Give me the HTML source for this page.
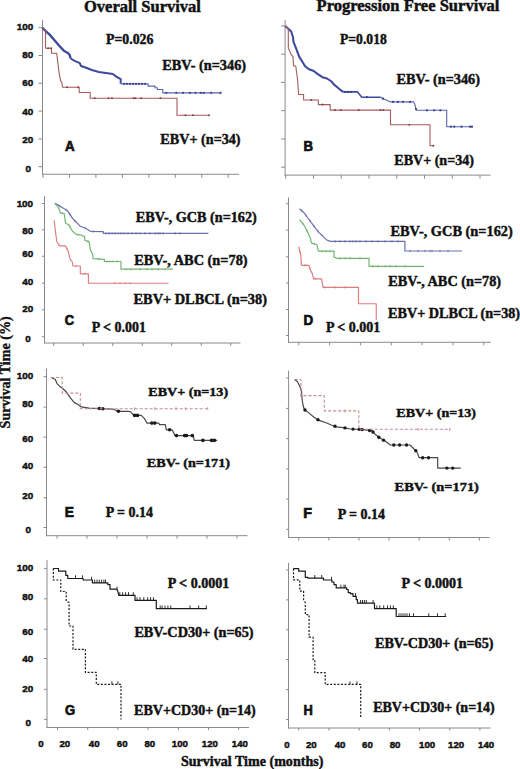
<!DOCTYPE html>
<html><head><meta charset="utf-8"><title>Survival curves by EBV status</title>
<style>html,body{margin:0;padding:0;background:#fff;width:520px;height:769px;overflow:hidden}svg{display:block}</style>
</head><body>
<svg width="520" height="769" viewBox="0 0 520 769">
<rect width="520" height="769" fill="#fff"/>
<line x1="42.50" y1="20.00" x2="42.50" y2="174.75" stroke="#8a8a8a" stroke-width="1" />
<line x1="42.00" y1="174.25" x2="239.00" y2="174.25" stroke="#8a8a8a" stroke-width="1" />
<line x1="38.50" y1="27.70" x2="42.50" y2="27.70" stroke="#8a8a8a" stroke-width="1" />
<line x1="38.50" y1="55.50" x2="42.50" y2="55.50" stroke="#8a8a8a" stroke-width="1" />
<line x1="38.50" y1="83.30" x2="42.50" y2="83.30" stroke="#8a8a8a" stroke-width="1" />
<line x1="38.50" y1="111.10" x2="42.50" y2="111.10" stroke="#8a8a8a" stroke-width="1" />
<line x1="38.50" y1="138.90" x2="42.50" y2="138.90" stroke="#8a8a8a" stroke-width="1" />
<line x1="38.50" y1="166.70" x2="42.50" y2="166.70" stroke="#8a8a8a" stroke-width="1" />
<line x1="43.00" y1="174.25" x2="43.00" y2="177.75" stroke="#8a8a8a" stroke-width="1" />
<line x1="69.46" y1="174.25" x2="69.46" y2="177.75" stroke="#8a8a8a" stroke-width="1" />
<line x1="95.92" y1="174.25" x2="95.92" y2="177.75" stroke="#8a8a8a" stroke-width="1" />
<line x1="122.38" y1="174.25" x2="122.38" y2="177.75" stroke="#8a8a8a" stroke-width="1" />
<line x1="148.84" y1="174.25" x2="148.84" y2="177.75" stroke="#8a8a8a" stroke-width="1" />
<line x1="175.30" y1="174.25" x2="175.30" y2="177.75" stroke="#8a8a8a" stroke-width="1" />
<line x1="201.76" y1="174.25" x2="201.76" y2="177.75" stroke="#8a8a8a" stroke-width="1" />
<line x1="228.22" y1="174.25" x2="228.22" y2="177.75" stroke="#8a8a8a" stroke-width="1" />
<polyline points="42.40,27.80 45.80,31.20 49.60,34.60 54.30,40.00 59.00,45.50 64.20,51.00 67.90,53.00 69.60,54.80 70.60,58.50" fill="none" stroke="#3d4a9e" stroke-width="2.4" stroke-linejoin="round" />
<polyline points="70.60,58.50 74.60,60.80 79.80,63.10 81.00,66.00 86.20,67.70 91.90,70.00 98.80,72.00 104.20,72.80 112.90,74.00 116.30,76.60 120.70,79.20 120.70,83.80" fill="none" stroke="#3d4a9e" stroke-width="2.0" stroke-linejoin="round" />
<polyline points="120.70,83.80 148.10,83.80 148.10,86.10 155.00,86.10 155.00,87.70 157.30,87.70 157.30,89.50 162.80,89.50 162.80,92.80 221.25,92.80" fill="none" stroke="#5a66ac" stroke-width="1.15" stroke-linejoin="round" />
<circle cx="124.00" cy="83.80" r="1.15" fill="#3a4590"/>
<circle cx="127.00" cy="83.80" r="1.15" fill="#3a4590"/>
<circle cx="130.00" cy="83.80" r="1.15" fill="#3a4590"/>
<circle cx="133.00" cy="83.80" r="1.15" fill="#3a4590"/>
<circle cx="136.00" cy="83.80" r="1.15" fill="#3a4590"/>
<circle cx="139.00" cy="83.80" r="1.15" fill="#3a4590"/>
<circle cx="142.00" cy="83.80" r="1.15" fill="#3a4590"/>
<circle cx="145.00" cy="83.80" r="1.15" fill="#3a4590"/>
<circle cx="166.25" cy="92.80" r="1.15" fill="#3a4590"/>
<circle cx="176.25" cy="92.80" r="1.15" fill="#3a4590"/>
<circle cx="183.00" cy="92.80" r="1.15" fill="#3a4590"/>
<circle cx="190.00" cy="92.80" r="1.15" fill="#3a4590"/>
<circle cx="195.50" cy="92.80" r="1.15" fill="#3a4590"/>
<circle cx="200.75" cy="92.80" r="1.15" fill="#3a4590"/>
<circle cx="203.75" cy="92.80" r="1.15" fill="#3a4590"/>
<circle cx="211.25" cy="92.80" r="1.15" fill="#3a4590"/>
<circle cx="220.50" cy="92.80" r="1.15" fill="#3a4590"/>
<polyline points="42.40,27.80 45.50,30.50 45.50,48.30 51.50,48.30 51.50,53.30 56.70,53.30 57.90,63.10 59.00,72.30 60.50,80.40 61.90,82.70 62.50,87.30 79.20,87.30 79.20,92.50 90.20,92.50 90.20,98.30 177.00,98.30 177.00,115.25 209.50,115.25" fill="none" stroke="#a65a5a" stroke-width="1.1" stroke-linejoin="round" />
<circle cx="48.10" cy="48.30" r="1.0" fill="#8a4040"/>
<circle cx="51.00" cy="48.30" r="1.0" fill="#8a4040"/>
<circle cx="67.10" cy="87.30" r="1.0" fill="#8a4040"/>
<circle cx="78.10" cy="87.30" r="1.0" fill="#8a4040"/>
<circle cx="94.80" cy="98.30" r="1.0" fill="#8a4040"/>
<circle cx="108.50" cy="98.30" r="1.0" fill="#8a4040"/>
<circle cx="112.00" cy="98.30" r="1.0" fill="#8a4040"/>
<circle cx="133.60" cy="98.30" r="1.0" fill="#8a4040"/>
<circle cx="135.40" cy="98.30" r="1.0" fill="#8a4040"/>
<circle cx="141.25" cy="98.30" r="1.0" fill="#8a4040"/>
<circle cx="160.40" cy="98.30" r="1.0" fill="#8a4040"/>
<circle cx="185.50" cy="115.25" r="1.0" fill="#8a4040"/>
<circle cx="193.00" cy="115.25" r="1.0" fill="#8a4040"/>
<circle cx="209.00" cy="115.25" r="1.0" fill="#8a4040"/>
<line x1="285.10" y1="20.00" x2="285.10" y2="175.60" stroke="#8a8a8a" stroke-width="1" />
<line x1="284.60" y1="175.10" x2="490.60" y2="175.10" stroke="#8a8a8a" stroke-width="1" />
<line x1="281.10" y1="25.90" x2="285.10" y2="25.90" stroke="#8a8a8a" stroke-width="1" />
<line x1="281.10" y1="54.16" x2="285.10" y2="54.16" stroke="#8a8a8a" stroke-width="1" />
<line x1="281.10" y1="82.42" x2="285.10" y2="82.42" stroke="#8a8a8a" stroke-width="1" />
<line x1="281.10" y1="110.68" x2="285.10" y2="110.68" stroke="#8a8a8a" stroke-width="1" />
<line x1="281.10" y1="138.94" x2="285.10" y2="138.94" stroke="#8a8a8a" stroke-width="1" />
<line x1="281.10" y1="167.20" x2="285.10" y2="167.20" stroke="#8a8a8a" stroke-width="1" />
<line x1="285.75" y1="175.10" x2="285.75" y2="178.60" stroke="#8a8a8a" stroke-width="1" />
<line x1="313.50" y1="175.10" x2="313.50" y2="178.60" stroke="#8a8a8a" stroke-width="1" />
<line x1="341.25" y1="175.10" x2="341.25" y2="178.60" stroke="#8a8a8a" stroke-width="1" />
<line x1="369.00" y1="175.10" x2="369.00" y2="178.60" stroke="#8a8a8a" stroke-width="1" />
<line x1="396.75" y1="175.10" x2="396.75" y2="178.60" stroke="#8a8a8a" stroke-width="1" />
<line x1="424.50" y1="175.10" x2="424.50" y2="178.60" stroke="#8a8a8a" stroke-width="1" />
<line x1="452.25" y1="175.10" x2="452.25" y2="178.60" stroke="#8a8a8a" stroke-width="1" />
<line x1="480.00" y1="175.10" x2="480.00" y2="178.60" stroke="#8a8a8a" stroke-width="1" />
<polyline points="285.20,26.00 288.30,28.70 291.20,31.50 293.00,37.30 293.50,41.90 295.80,47.70 299.30,56.90 302.20,61.50 305.10,66.20 308.50,69.00 313.70,71.00 317.80,74.20 322.40,77.20 327.00,78.50 331.50,81.50 333.80,84.40 337.30,87.30 340.80,90.20 343.10,91.90" fill="none" stroke="#3d4a9e" stroke-width="2.1" stroke-linejoin="round" />
<polyline points="343.10,91.90 357.50,91.90 359.20,94.10 361.80,97.20 380.80,97.20" fill="none" stroke="#3d4a9e" stroke-width="1.6" stroke-linejoin="round" />
<polyline points="380.80,97.20 383.40,99.00 386.90,100.20 390.40,101.90 413.70,101.90 414.90,104.50 416.30,110.30 446.70,110.30 446.70,126.70 472.70,126.70" fill="none" stroke="#5a66ac" stroke-width="1.1" stroke-linejoin="round" />
<circle cx="345.00" cy="91.90" r="1.15" fill="#3a4590"/>
<circle cx="348.00" cy="91.90" r="1.15" fill="#3a4590"/>
<circle cx="351.00" cy="91.90" r="1.15" fill="#3a4590"/>
<circle cx="367.00" cy="97.20" r="1.15" fill="#3a4590"/>
<circle cx="383.00" cy="98.72" r="1.15" fill="#3a4590"/>
<circle cx="393.00" cy="101.90" r="1.15" fill="#3a4590"/>
<circle cx="398.00" cy="101.90" r="1.15" fill="#3a4590"/>
<circle cx="403.00" cy="101.90" r="1.15" fill="#3a4590"/>
<circle cx="410.00" cy="101.90" r="1.15" fill="#3a4590"/>
<circle cx="416.00" cy="109.06" r="1.15" fill="#3a4590"/>
<circle cx="426.90" cy="110.30" r="1.15" fill="#3a4590"/>
<circle cx="434.20" cy="110.30" r="1.15" fill="#3a4590"/>
<circle cx="440.30" cy="110.30" r="1.15" fill="#3a4590"/>
<circle cx="450.80" cy="126.70" r="1.15" fill="#3a4590"/>
<circle cx="454.20" cy="126.70" r="1.15" fill="#3a4590"/>
<circle cx="461.50" cy="126.70" r="1.15" fill="#3a4590"/>
<circle cx="470.00" cy="126.70" r="1.15" fill="#3a4590"/>
<circle cx="472.00" cy="126.70" r="1.15" fill="#3a4590"/>
<polyline points="285.20,26.00 288.30,28.70 288.30,47.70 291.20,54.60 293.00,56.90 293.50,65.60 295.80,66.20 297.60,80.00 298.30,90.80 298.60,94.50 303.60,94.50 303.60,100.00 318.30,100.00 318.30,104.60 330.20,104.60 330.20,110.10 390.50,110.10 390.50,124.70 430.00,124.70 430.00,145.80 433.70,145.80" fill="none" stroke="#a65a5a" stroke-width="1.1" stroke-linejoin="round" />
<circle cx="311.30" cy="100.00" r="1.0" fill="#8a4040"/>
<circle cx="322.50" cy="104.60" r="1.0" fill="#8a4040"/>
<circle cx="335.00" cy="110.10" r="1.0" fill="#8a4040"/>
<circle cx="340.80" cy="110.10" r="1.0" fill="#8a4040"/>
<circle cx="358.70" cy="110.10" r="1.0" fill="#8a4040"/>
<circle cx="380.40" cy="110.10" r="1.0" fill="#8a4040"/>
<circle cx="383.30" cy="110.10" r="1.0" fill="#8a4040"/>
<circle cx="409.20" cy="124.70" r="1.0" fill="#8a4040"/>
<circle cx="433.30" cy="145.80" r="1.0" fill="#8a4040"/>
<line x1="44.50" y1="196.00" x2="44.50" y2="343.50" stroke="#8a8a8a" stroke-width="1" />
<line x1="44.00" y1="343.00" x2="240.50" y2="343.00" stroke="#8a8a8a" stroke-width="1" />
<line x1="42.00" y1="203.50" x2="44.50" y2="203.50" stroke="#8a8a8a" stroke-width="1" />
<line x1="42.00" y1="229.80" x2="44.50" y2="229.80" stroke="#8a8a8a" stroke-width="1" />
<line x1="42.00" y1="256.25" x2="44.50" y2="256.25" stroke="#8a8a8a" stroke-width="1" />
<line x1="42.00" y1="283.20" x2="44.50" y2="283.20" stroke="#8a8a8a" stroke-width="1" />
<line x1="42.00" y1="309.80" x2="44.50" y2="309.80" stroke="#8a8a8a" stroke-width="1" />
<line x1="42.00" y1="336.70" x2="44.50" y2="336.70" stroke="#8a8a8a" stroke-width="1" />
<line x1="53.75" y1="343.00" x2="53.75" y2="346.00" stroke="#8a8a8a" stroke-width="1" />
<line x1="83.25" y1="343.00" x2="83.25" y2="346.00" stroke="#8a8a8a" stroke-width="1" />
<line x1="112.75" y1="343.00" x2="112.75" y2="346.00" stroke="#8a8a8a" stroke-width="1" />
<line x1="142.25" y1="343.00" x2="142.25" y2="346.00" stroke="#8a8a8a" stroke-width="1" />
<line x1="171.75" y1="343.00" x2="171.75" y2="346.00" stroke="#8a8a8a" stroke-width="1" />
<line x1="201.25" y1="343.00" x2="201.25" y2="346.00" stroke="#8a8a8a" stroke-width="1" />
<line x1="230.75" y1="343.00" x2="230.75" y2="346.00" stroke="#8a8a8a" stroke-width="1" />
<polyline points="54.80,203.40 58.80,205.40 64.20,208.80 67.60,210.80 70.20,214.80 72.90,218.90 76.30,222.20 80.30,226.30 85.70,228.30 90.40,231.30 103.20,231.60 103.30,233.30 208.40,233.30" fill="none" stroke="#6870ac" stroke-width="1.2" stroke-linejoin="round" />
<polyline points="54.80,203.40 57.50,206.10 59.50,210.10 60.20,212.80 64.20,213.50 65.50,222.90 68.90,224.90 72.30,231.00 76.30,234.40 81.00,235.00 84.40,236.40 85.00,240.40 89.10,241.80 90.40,249.80 92.50,253.90 93.10,258.60 104.40,259.30 104.40,261.50 121.00,261.50 121.00,269.20 173.00,269.20" fill="none" stroke="#72b472" stroke-width="1.2" stroke-linejoin="round" />
<polyline points="54.10,220.20 55.40,231.00 56.80,241.80 59.50,245.80 65.50,245.80 68.20,251.20 70.20,259.30 72.30,262.00 72.90,266.00 80.30,266.00 80.30,273.80 88.40,273.80 88.40,283.20 168.60,283.20" fill="none" stroke="#de7c7c" stroke-width="1.15" stroke-linejoin="round" />
<line x1="60.00" y1="204.91" x2="60.00" y2="207.41" stroke="#6870ac" stroke-width="0.8" />
<line x1="66.00" y1="208.61" x2="66.00" y2="211.11" stroke="#6870ac" stroke-width="0.8" />
<line x1="70.00" y1="213.24" x2="70.00" y2="215.74" stroke="#6870ac" stroke-width="0.8" />
<line x1="75.00" y1="219.69" x2="75.00" y2="222.19" stroke="#6870ac" stroke-width="0.8" />
<line x1="85.00" y1="226.79" x2="85.00" y2="229.29" stroke="#6870ac" stroke-width="0.8" />
<line x1="93.00" y1="230.11" x2="93.00" y2="232.61" stroke="#6870ac" stroke-width="0.8" />
<line x1="106.00" y1="232.05" x2="106.00" y2="234.55" stroke="#6870ac" stroke-width="0.8" />
<line x1="109.00" y1="232.05" x2="109.00" y2="234.55" stroke="#6870ac" stroke-width="0.8" />
<line x1="112.00" y1="232.05" x2="112.00" y2="234.55" stroke="#6870ac" stroke-width="0.8" />
<line x1="115.00" y1="232.05" x2="115.00" y2="234.55" stroke="#6870ac" stroke-width="0.8" />
<line x1="118.00" y1="232.05" x2="118.00" y2="234.55" stroke="#6870ac" stroke-width="0.8" />
<line x1="121.00" y1="232.05" x2="121.00" y2="234.55" stroke="#6870ac" stroke-width="0.8" />
<line x1="124.00" y1="232.05" x2="124.00" y2="234.55" stroke="#6870ac" stroke-width="0.8" />
<line x1="128.00" y1="232.05" x2="128.00" y2="234.55" stroke="#6870ac" stroke-width="0.8" />
<line x1="132.00" y1="232.05" x2="132.00" y2="234.55" stroke="#6870ac" stroke-width="0.8" />
<line x1="136.00" y1="232.05" x2="136.00" y2="234.55" stroke="#6870ac" stroke-width="0.8" />
<line x1="140.00" y1="232.05" x2="140.00" y2="234.55" stroke="#6870ac" stroke-width="0.8" />
<line x1="145.00" y1="232.05" x2="145.00" y2="234.55" stroke="#6870ac" stroke-width="0.8" />
<line x1="150.00" y1="232.05" x2="150.00" y2="234.55" stroke="#6870ac" stroke-width="0.8" />
<line x1="155.00" y1="232.05" x2="155.00" y2="234.55" stroke="#6870ac" stroke-width="0.8" />
<line x1="158.00" y1="232.05" x2="158.00" y2="234.55" stroke="#6870ac" stroke-width="0.8" />
<line x1="160.00" y1="232.05" x2="160.00" y2="234.55" stroke="#6870ac" stroke-width="0.8" />
<line x1="163.00" y1="232.05" x2="163.00" y2="234.55" stroke="#6870ac" stroke-width="0.8" />
<line x1="175.00" y1="232.05" x2="175.00" y2="234.55" stroke="#6870ac" stroke-width="0.8" />
<line x1="180.00" y1="232.05" x2="180.00" y2="234.55" stroke="#6870ac" stroke-width="0.8" />
<line x1="62.00" y1="211.87" x2="62.00" y2="214.37" stroke="#72b472" stroke-width="0.8" />
<line x1="70.00" y1="225.62" x2="70.00" y2="228.12" stroke="#72b472" stroke-width="0.8" />
<line x1="78.00" y1="233.37" x2="78.00" y2="235.87" stroke="#72b472" stroke-width="0.8" />
<line x1="88.00" y1="240.17" x2="88.00" y2="242.67" stroke="#72b472" stroke-width="0.8" />
<line x1="99.00" y1="257.72" x2="99.00" y2="260.22" stroke="#72b472" stroke-width="0.8" />
<line x1="107.00" y1="260.25" x2="107.00" y2="262.75" stroke="#72b472" stroke-width="0.8" />
<line x1="110.00" y1="260.25" x2="110.00" y2="262.75" stroke="#72b472" stroke-width="0.8" />
<line x1="113.00" y1="260.25" x2="113.00" y2="262.75" stroke="#72b472" stroke-width="0.8" />
<line x1="117.00" y1="260.25" x2="117.00" y2="262.75" stroke="#72b472" stroke-width="0.8" />
<line x1="126.00" y1="267.95" x2="126.00" y2="270.45" stroke="#72b472" stroke-width="0.8" />
<line x1="131.00" y1="267.95" x2="131.00" y2="270.45" stroke="#72b472" stroke-width="0.8" />
<line x1="140.00" y1="267.95" x2="140.00" y2="270.45" stroke="#72b472" stroke-width="0.8" />
<line x1="147.00" y1="267.95" x2="147.00" y2="270.45" stroke="#72b472" stroke-width="0.8" />
<line x1="152.00" y1="267.95" x2="152.00" y2="270.45" stroke="#72b472" stroke-width="0.8" />
<line x1="158.00" y1="267.95" x2="158.00" y2="270.45" stroke="#72b472" stroke-width="0.8" />
<line x1="165.00" y1="267.95" x2="165.00" y2="270.45" stroke="#72b472" stroke-width="0.8" />
<line x1="59.00" y1="243.81" x2="59.00" y2="246.31" stroke="#de7c7c" stroke-width="0.8" />
<line x1="67.00" y1="247.55" x2="67.00" y2="250.05" stroke="#de7c7c" stroke-width="0.8" />
<line x1="76.00" y1="264.75" x2="76.00" y2="267.25" stroke="#de7c7c" stroke-width="0.8" />
<line x1="85.00" y1="272.55" x2="85.00" y2="275.05" stroke="#de7c7c" stroke-width="0.8" />
<line x1="115.00" y1="281.95" x2="115.00" y2="284.45" stroke="#de7c7c" stroke-width="0.8" />
<line x1="120.00" y1="281.95" x2="120.00" y2="284.45" stroke="#de7c7c" stroke-width="0.8" />
<line x1="125.00" y1="281.95" x2="125.00" y2="284.45" stroke="#de7c7c" stroke-width="0.8" />
<line x1="130.00" y1="281.95" x2="130.00" y2="284.45" stroke="#de7c7c" stroke-width="0.8" />
<line x1="288.50" y1="197.50" x2="288.50" y2="342.80" stroke="#8a8a8a" stroke-width="1" />
<line x1="288.00" y1="342.30" x2="490.80" y2="342.30" stroke="#8a8a8a" stroke-width="1" />
<line x1="286.00" y1="203.75" x2="288.50" y2="203.75" stroke="#8a8a8a" stroke-width="1" />
<line x1="286.00" y1="230.00" x2="288.50" y2="230.00" stroke="#8a8a8a" stroke-width="1" />
<line x1="286.00" y1="256.75" x2="288.50" y2="256.75" stroke="#8a8a8a" stroke-width="1" />
<line x1="286.00" y1="283.00" x2="288.50" y2="283.00" stroke="#8a8a8a" stroke-width="1" />
<line x1="286.00" y1="309.50" x2="288.50" y2="309.50" stroke="#8a8a8a" stroke-width="1" />
<line x1="286.00" y1="335.50" x2="288.50" y2="335.50" stroke="#8a8a8a" stroke-width="1" />
<line x1="298.75" y1="342.30" x2="298.75" y2="345.30" stroke="#8a8a8a" stroke-width="1" />
<line x1="329.58" y1="342.30" x2="329.58" y2="345.30" stroke="#8a8a8a" stroke-width="1" />
<line x1="360.41" y1="342.30" x2="360.41" y2="345.30" stroke="#8a8a8a" stroke-width="1" />
<line x1="391.24" y1="342.30" x2="391.24" y2="345.30" stroke="#8a8a8a" stroke-width="1" />
<line x1="422.07" y1="342.30" x2="422.07" y2="345.30" stroke="#8a8a8a" stroke-width="1" />
<line x1="452.90" y1="342.30" x2="452.90" y2="345.30" stroke="#8a8a8a" stroke-width="1" />
<line x1="483.73" y1="342.30" x2="483.73" y2="345.30" stroke="#8a8a8a" stroke-width="1" />
<polyline points="299.40,208.80 303.50,212.20 307.50,217.50 311.50,222.90 315.60,228.30 318.90,232.30 323.00,236.40 326.30,239.70 330.40,241.40 404.90,241.40 404.90,251.00 461.90,251.00" fill="none" stroke="#6870ac" stroke-width="1.2" stroke-linejoin="round" />
<polyline points="299.40,219.60 303.50,224.30 307.50,231.70 310.20,237.70 311.50,243.10 316.90,244.50 318.30,251.10 334.00,251.10 334.00,256.90 336.70,258.30 369.00,258.30 369.00,266.30 424.20,266.30" fill="none" stroke="#72b472" stroke-width="1.2" stroke-linejoin="round" />
<polyline points="298.70,246.50 300.80,255.20 301.40,265.30 308.80,265.30 310.20,269.40 312.20,273.40 313.60,278.80 321.60,278.80 323.00,287.30 358.50,287.30 358.50,303.75 376.25,303.75 376.25,320.00" fill="none" stroke="#de7c7c" stroke-width="1.15" stroke-linejoin="round" />
<line x1="302.00" y1="209.71" x2="302.00" y2="212.21" stroke="#6870ac" stroke-width="0.8" />
<line x1="306.00" y1="214.26" x2="306.00" y2="216.76" stroke="#6870ac" stroke-width="0.8" />
<line x1="310.00" y1="219.62" x2="310.00" y2="222.12" stroke="#6870ac" stroke-width="0.8" />
<line x1="314.00" y1="224.94" x2="314.00" y2="227.44" stroke="#6870ac" stroke-width="0.8" />
<line x1="318.00" y1="229.96" x2="318.00" y2="232.46" stroke="#6870ac" stroke-width="0.8" />
<line x1="322.00" y1="234.15" x2="322.00" y2="236.65" stroke="#6870ac" stroke-width="0.8" />
<line x1="335.00" y1="240.15" x2="335.00" y2="242.65" stroke="#6870ac" stroke-width="0.8" />
<line x1="340.00" y1="240.15" x2="340.00" y2="242.65" stroke="#6870ac" stroke-width="0.8" />
<line x1="345.00" y1="240.15" x2="345.00" y2="242.65" stroke="#6870ac" stroke-width="0.8" />
<line x1="350.00" y1="240.15" x2="350.00" y2="242.65" stroke="#6870ac" stroke-width="0.8" />
<line x1="353.00" y1="240.15" x2="353.00" y2="242.65" stroke="#6870ac" stroke-width="0.8" />
<line x1="356.00" y1="240.15" x2="356.00" y2="242.65" stroke="#6870ac" stroke-width="0.8" />
<line x1="360.00" y1="240.15" x2="360.00" y2="242.65" stroke="#6870ac" stroke-width="0.8" />
<line x1="366.00" y1="240.15" x2="366.00" y2="242.65" stroke="#6870ac" stroke-width="0.8" />
<line x1="372.00" y1="240.15" x2="372.00" y2="242.65" stroke="#6870ac" stroke-width="0.8" />
<line x1="378.00" y1="240.15" x2="378.00" y2="242.65" stroke="#6870ac" stroke-width="0.8" />
<line x1="385.00" y1="240.15" x2="385.00" y2="242.65" stroke="#6870ac" stroke-width="0.8" />
<line x1="392.00" y1="240.15" x2="392.00" y2="242.65" stroke="#6870ac" stroke-width="0.8" />
<line x1="398.00" y1="240.15" x2="398.00" y2="242.65" stroke="#6870ac" stroke-width="0.8" />
<line x1="410.00" y1="249.75" x2="410.00" y2="252.25" stroke="#6870ac" stroke-width="0.8" />
<line x1="418.00" y1="249.75" x2="418.00" y2="252.25" stroke="#6870ac" stroke-width="0.8" />
<line x1="425.00" y1="249.75" x2="425.00" y2="252.25" stroke="#6870ac" stroke-width="0.8" />
<line x1="430.00" y1="249.75" x2="430.00" y2="252.25" stroke="#6870ac" stroke-width="0.8" />
<line x1="432.00" y1="249.75" x2="432.00" y2="252.25" stroke="#6870ac" stroke-width="0.8" />
<line x1="440.00" y1="249.75" x2="440.00" y2="252.25" stroke="#6870ac" stroke-width="0.8" />
<line x1="448.00" y1="249.75" x2="448.00" y2="252.25" stroke="#6870ac" stroke-width="0.8" />
<line x1="303.00" y1="222.48" x2="303.00" y2="224.98" stroke="#72b472" stroke-width="0.8" />
<line x1="307.00" y1="229.52" x2="307.00" y2="232.02" stroke="#72b472" stroke-width="0.8" />
<line x1="314.00" y1="242.50" x2="314.00" y2="245.00" stroke="#72b472" stroke-width="0.8" />
<line x1="322.00" y1="249.85" x2="322.00" y2="252.35" stroke="#72b472" stroke-width="0.8" />
<line x1="326.00" y1="249.85" x2="326.00" y2="252.35" stroke="#72b472" stroke-width="0.8" />
<line x1="330.00" y1="249.85" x2="330.00" y2="252.35" stroke="#72b472" stroke-width="0.8" />
<line x1="340.00" y1="257.05" x2="340.00" y2="259.55" stroke="#72b472" stroke-width="0.8" />
<line x1="345.00" y1="257.05" x2="345.00" y2="259.55" stroke="#72b472" stroke-width="0.8" />
<line x1="350.00" y1="257.05" x2="350.00" y2="259.55" stroke="#72b472" stroke-width="0.8" />
<line x1="360.00" y1="257.05" x2="360.00" y2="259.55" stroke="#72b472" stroke-width="0.8" />
<line x1="373.00" y1="265.05" x2="373.00" y2="267.55" stroke="#72b472" stroke-width="0.8" />
<line x1="378.00" y1="265.05" x2="378.00" y2="267.55" stroke="#72b472" stroke-width="0.8" />
<line x1="385.00" y1="265.05" x2="385.00" y2="267.55" stroke="#72b472" stroke-width="0.8" />
<line x1="390.00" y1="265.05" x2="390.00" y2="267.55" stroke="#72b472" stroke-width="0.8" />
<line x1="396.00" y1="265.05" x2="396.00" y2="267.55" stroke="#72b472" stroke-width="0.8" />
<line x1="405.00" y1="265.05" x2="405.00" y2="267.55" stroke="#72b472" stroke-width="0.8" />
<line x1="300.00" y1="250.64" x2="300.00" y2="253.14" stroke="#de7c7c" stroke-width="0.8" />
<line x1="305.00" y1="264.05" x2="305.00" y2="266.55" stroke="#de7c7c" stroke-width="0.8" />
<line x1="310.00" y1="267.56" x2="310.00" y2="270.06" stroke="#de7c7c" stroke-width="0.8" />
<line x1="315.00" y1="277.55" x2="315.00" y2="280.05" stroke="#de7c7c" stroke-width="0.8" />
<line x1="325.00" y1="286.05" x2="325.00" y2="288.55" stroke="#de7c7c" stroke-width="0.8" />
<line x1="335.00" y1="286.05" x2="335.00" y2="288.55" stroke="#de7c7c" stroke-width="0.8" />
<line x1="345.00" y1="286.05" x2="345.00" y2="288.55" stroke="#de7c7c" stroke-width="0.8" />
<line x1="46.50" y1="368.50" x2="46.50" y2="536.20" stroke="#8a8a8a" stroke-width="1" />
<line x1="46.00" y1="535.70" x2="247.50" y2="535.70" stroke="#8a8a8a" stroke-width="1" />
<line x1="43.50" y1="376.70" x2="46.50" y2="376.70" stroke="#8a8a8a" stroke-width="1" />
<line x1="43.50" y1="407.10" x2="46.50" y2="407.10" stroke="#8a8a8a" stroke-width="1" />
<line x1="43.50" y1="437.10" x2="46.50" y2="437.10" stroke="#8a8a8a" stroke-width="1" />
<line x1="43.50" y1="467.30" x2="46.50" y2="467.30" stroke="#8a8a8a" stroke-width="1" />
<line x1="43.50" y1="497.70" x2="46.50" y2="497.70" stroke="#8a8a8a" stroke-width="1" />
<line x1="43.50" y1="527.50" x2="46.50" y2="527.50" stroke="#8a8a8a" stroke-width="1" />
<line x1="57.00" y1="535.70" x2="57.00" y2="538.70" stroke="#8a8a8a" stroke-width="1" />
<line x1="87.00" y1="535.70" x2="87.00" y2="538.70" stroke="#8a8a8a" stroke-width="1" />
<line x1="117.00" y1="535.70" x2="117.00" y2="538.70" stroke="#8a8a8a" stroke-width="1" />
<line x1="147.00" y1="535.70" x2="147.00" y2="538.70" stroke="#8a8a8a" stroke-width="1" />
<line x1="177.00" y1="535.70" x2="177.00" y2="538.70" stroke="#8a8a8a" stroke-width="1" />
<line x1="207.00" y1="535.70" x2="207.00" y2="538.70" stroke="#8a8a8a" stroke-width="1" />
<line x1="237.00" y1="535.70" x2="237.00" y2="538.70" stroke="#8a8a8a" stroke-width="1" />
<polyline points="50.90,377.50 55.20,379.20 57.00,383.60 59.60,386.20 63.00,388.80 66.50,392.20 70.00,397.40 74.30,402.60 77.70,404.30 81.20,406.90 89.00,408.10 113.20,409.20 118.40,411.30 128.80,411.30 130.80,411.90 133.70,415.40 141.30,415.40 144.20,418.30 147.10,423.10 158.70,423.10 159.60,424.60 165.40,424.60 166.30,429.80 172.10,429.80 175.00,435.60 193.30,435.60 194.20,440.40 217.30,440.40" fill="none" stroke="#484848" stroke-width="1.2" stroke-linejoin="round" />
<circle cx="99.40" cy="408.57" r="1.8" fill="#1a1a1a"/>
<circle cx="102.80" cy="408.73" r="1.8" fill="#1a1a1a"/>
<circle cx="118.40" cy="411.30" r="1.8" fill="#1a1a1a"/>
<circle cx="134.60" cy="415.40" r="1.8" fill="#1a1a1a"/>
<circle cx="137.50" cy="415.40" r="1.8" fill="#1a1a1a"/>
<circle cx="151.90" cy="423.10" r="1.8" fill="#1a1a1a"/>
<circle cx="154.80" cy="423.10" r="1.8" fill="#1a1a1a"/>
<circle cx="169.60" cy="429.80" r="1.8" fill="#1a1a1a"/>
<circle cx="176.50" cy="435.60" r="1.8" fill="#1a1a1a"/>
<circle cx="184.60" cy="435.60" r="1.8" fill="#1a1a1a"/>
<circle cx="186.50" cy="435.60" r="1.8" fill="#1a1a1a"/>
<circle cx="192.30" cy="435.60" r="1.8" fill="#1a1a1a"/>
<circle cx="202.90" cy="440.40" r="1.8" fill="#1a1a1a"/>
<circle cx="211.50" cy="440.40" r="1.8" fill="#1a1a1a"/>
<circle cx="214.40" cy="440.40" r="1.8" fill="#1a1a1a"/>
<polyline points="50.90,377.50 62.20,377.50 62.20,393.10 80.30,393.10 80.30,408.70 209.50,408.70" fill="none" stroke="#c48a90" stroke-width="1.1" stroke-linejoin="round" stroke-dasharray="3,2"/>
<line x1="134.60" y1="407.20" x2="134.60" y2="410.20" stroke="#c48a90" stroke-width="0.9" />
<line x1="154.80" y1="407.20" x2="154.80" y2="410.20" stroke="#c48a90" stroke-width="0.9" />
<line x1="176.00" y1="407.20" x2="176.00" y2="410.20" stroke="#c48a90" stroke-width="0.9" />
<line x1="185.60" y1="407.20" x2="185.60" y2="410.20" stroke="#c48a90" stroke-width="0.9" />
<line x1="207.70" y1="407.20" x2="207.70" y2="410.20" stroke="#c48a90" stroke-width="0.9" />
<line x1="288.60" y1="370.60" x2="288.60" y2="538.00" stroke="#8a8a8a" stroke-width="1" />
<line x1="288.10" y1="537.50" x2="489.50" y2="537.50" stroke="#8a8a8a" stroke-width="1" />
<line x1="286.10" y1="378.00" x2="288.60" y2="378.00" stroke="#8a8a8a" stroke-width="1" />
<line x1="286.10" y1="408.40" x2="288.60" y2="408.40" stroke="#8a8a8a" stroke-width="1" />
<line x1="286.10" y1="438.70" x2="288.60" y2="438.70" stroke="#8a8a8a" stroke-width="1" />
<line x1="286.10" y1="468.90" x2="288.60" y2="468.90" stroke="#8a8a8a" stroke-width="1" />
<line x1="286.10" y1="499.10" x2="288.60" y2="499.10" stroke="#8a8a8a" stroke-width="1" />
<line x1="286.10" y1="529.30" x2="288.60" y2="529.30" stroke="#8a8a8a" stroke-width="1" />
<line x1="298.75" y1="537.50" x2="298.75" y2="540.50" stroke="#8a8a8a" stroke-width="1" />
<line x1="328.85" y1="537.50" x2="328.85" y2="540.50" stroke="#8a8a8a" stroke-width="1" />
<line x1="358.95" y1="537.50" x2="358.95" y2="540.50" stroke="#8a8a8a" stroke-width="1" />
<line x1="389.05" y1="537.50" x2="389.05" y2="540.50" stroke="#8a8a8a" stroke-width="1" />
<line x1="419.15" y1="537.50" x2="419.15" y2="540.50" stroke="#8a8a8a" stroke-width="1" />
<line x1="449.25" y1="537.50" x2="449.25" y2="540.50" stroke="#8a8a8a" stroke-width="1" />
<line x1="479.35" y1="537.50" x2="479.35" y2="540.50" stroke="#8a8a8a" stroke-width="1" />
<polyline points="294.60,379.50 297.50,381.80 300.10,387.00 301.50,391.30 302.20,400.00 303.20,406.00 304.40,409.50 308.80,412.90 314.00,417.30 319.10,420.40 326.10,422.80 331.30,425.00 336.40,426.80 343.40,427.60 350.30,429.00 360.70,429.40 371.90,430.70 375.40,434.60 380.00,438.10 385.80,441.50 390.40,445.00 410.00,445.00 413.50,448.50 416.90,451.90 419.20,457.70 437.70,457.70 437.70,468.10 460.80,468.10" fill="none" stroke="#484848" stroke-width="1.2" stroke-linejoin="round" />
<circle cx="305.00" cy="409.96" r="1.7" fill="#1a1a1a"/>
<circle cx="318.00" cy="419.73" r="1.7" fill="#1a1a1a"/>
<circle cx="335.00" cy="426.31" r="1.7" fill="#1a1a1a"/>
<circle cx="345.00" cy="427.92" r="1.7" fill="#1a1a1a"/>
<circle cx="353.00" cy="429.10" r="1.7" fill="#1a1a1a"/>
<circle cx="359.20" cy="429.34" r="1.7" fill="#1a1a1a"/>
<circle cx="362.00" cy="429.55" r="1.7" fill="#1a1a1a"/>
<circle cx="369.60" cy="430.43" r="1.7" fill="#1a1a1a"/>
<circle cx="373.00" cy="431.93" r="1.7" fill="#1a1a1a"/>
<circle cx="378.80" cy="437.19" r="1.7" fill="#1a1a1a"/>
<circle cx="383.50" cy="440.15" r="1.7" fill="#1a1a1a"/>
<circle cx="393.80" cy="445.00" r="1.7" fill="#1a1a1a"/>
<circle cx="399.60" cy="445.00" r="1.7" fill="#1a1a1a"/>
<circle cx="406.50" cy="445.00" r="1.7" fill="#1a1a1a"/>
<circle cx="415.80" cy="450.80" r="1.7" fill="#1a1a1a"/>
<circle cx="422.70" cy="457.70" r="1.7" fill="#1a1a1a"/>
<circle cx="428.50" cy="457.70" r="1.7" fill="#1a1a1a"/>
<circle cx="446.90" cy="468.10" r="1.7" fill="#1a1a1a"/>
<circle cx="452.70" cy="468.10" r="1.7" fill="#1a1a1a"/>
<polyline points="294.60,379.50 301.00,379.50 301.00,395.60 324.30,395.60 324.30,410.90 358.80,410.90 358.80,429.30 450.40,429.30" fill="none" stroke="#c48a90" stroke-width="1.1" stroke-linejoin="round" stroke-dasharray="3,2"/>
<line x1="301.00" y1="394.10" x2="301.00" y2="397.10" stroke="#c48a90" stroke-width="0.9" />
<line x1="345.00" y1="409.40" x2="345.00" y2="412.40" stroke="#c48a90" stroke-width="0.9" />
<line x1="418.10" y1="427.80" x2="418.10" y2="430.80" stroke="#c48a90" stroke-width="0.9" />
<line x1="449.70" y1="427.80" x2="449.70" y2="430.80" stroke="#c48a90" stroke-width="0.9" />
<line x1="47.00" y1="560.00" x2="47.00" y2="728.00" stroke="#8a8a8a" stroke-width="1" />
<line x1="46.50" y1="727.50" x2="249.00" y2="727.50" stroke="#8a8a8a" stroke-width="1" />
<line x1="44.00" y1="568.40" x2="47.00" y2="568.40" stroke="#8a8a8a" stroke-width="1" />
<line x1="44.00" y1="598.80" x2="47.00" y2="598.80" stroke="#8a8a8a" stroke-width="1" />
<line x1="44.00" y1="629.20" x2="47.00" y2="629.20" stroke="#8a8a8a" stroke-width="1" />
<line x1="44.00" y1="658.50" x2="47.00" y2="658.50" stroke="#8a8a8a" stroke-width="1" />
<line x1="44.00" y1="689.30" x2="47.00" y2="689.30" stroke="#8a8a8a" stroke-width="1" />
<line x1="44.00" y1="719.40" x2="47.00" y2="719.40" stroke="#8a8a8a" stroke-width="1" />
<line x1="57.50" y1="727.50" x2="57.50" y2="730.00" stroke="#8a8a8a" stroke-width="1" />
<line x1="87.70" y1="727.50" x2="87.70" y2="730.00" stroke="#8a8a8a" stroke-width="1" />
<line x1="117.90" y1="727.50" x2="117.90" y2="730.00" stroke="#8a8a8a" stroke-width="1" />
<line x1="148.10" y1="727.50" x2="148.10" y2="730.00" stroke="#8a8a8a" stroke-width="1" />
<line x1="178.30" y1="727.50" x2="178.30" y2="730.00" stroke="#8a8a8a" stroke-width="1" />
<line x1="208.50" y1="727.50" x2="208.50" y2="730.00" stroke="#8a8a8a" stroke-width="1" />
<line x1="238.70" y1="727.50" x2="238.70" y2="730.00" stroke="#8a8a8a" stroke-width="1" />
<polyline points="53.20,568.50 58.50,568.50 58.50,571.10 65.80,571.10 65.80,575.40 67.80,575.40 67.80,578.50 83.20,578.50 83.20,580.00 92.40,580.00 92.40,582.80 107.80,582.80 107.80,584.60 110.00,584.60 110.00,589.20 116.50,589.20 117.70,590.80 118.80,595.40 135.00,595.40 135.00,600.40 135.20,600.40 135.20,600.40 156.30,600.40 156.30,608.70 206.90,608.70" fill="none" stroke="#1a1a1a" stroke-width="1.2" stroke-linejoin="round" />
<line x1="75.50" y1="575.30" x2="75.50" y2="578.50" stroke="#1a1a1a" stroke-width="0.9" />
<line x1="82.40" y1="575.30" x2="82.40" y2="578.50" stroke="#1a1a1a" stroke-width="0.9" />
<line x1="91.60" y1="576.80" x2="91.60" y2="580.00" stroke="#1a1a1a" stroke-width="0.9" />
<line x1="94.70" y1="579.60" x2="94.70" y2="582.80" stroke="#1a1a1a" stroke-width="0.9" />
<line x1="97.00" y1="579.60" x2="97.00" y2="582.80" stroke="#1a1a1a" stroke-width="0.9" />
<line x1="99.30" y1="579.60" x2="99.30" y2="582.80" stroke="#1a1a1a" stroke-width="0.9" />
<line x1="101.60" y1="579.60" x2="101.60" y2="582.80" stroke="#1a1a1a" stroke-width="0.9" />
<line x1="103.90" y1="579.60" x2="103.90" y2="582.80" stroke="#1a1a1a" stroke-width="0.9" />
<line x1="105.50" y1="579.60" x2="105.50" y2="582.80" stroke="#1a1a1a" stroke-width="0.9" />
<line x1="117.00" y1="586.67" x2="117.00" y2="589.87" stroke="#1a1a1a" stroke-width="0.9" />
<line x1="119.80" y1="592.20" x2="119.80" y2="595.40" stroke="#1a1a1a" stroke-width="0.9" />
<line x1="122.70" y1="592.20" x2="122.70" y2="595.40" stroke="#1a1a1a" stroke-width="0.9" />
<line x1="125.60" y1="592.20" x2="125.60" y2="595.40" stroke="#1a1a1a" stroke-width="0.9" />
<line x1="128.50" y1="592.20" x2="128.50" y2="595.40" stroke="#1a1a1a" stroke-width="0.9" />
<line x1="133.30" y1="592.20" x2="133.30" y2="595.40" stroke="#1a1a1a" stroke-width="0.9" />
<line x1="137.10" y1="597.20" x2="137.10" y2="600.40" stroke="#1a1a1a" stroke-width="0.9" />
<line x1="140.00" y1="597.20" x2="140.00" y2="600.40" stroke="#1a1a1a" stroke-width="0.9" />
<line x1="143.80" y1="597.20" x2="143.80" y2="600.40" stroke="#1a1a1a" stroke-width="0.9" />
<line x1="147.70" y1="597.20" x2="147.70" y2="600.40" stroke="#1a1a1a" stroke-width="0.9" />
<line x1="150.60" y1="597.20" x2="150.60" y2="600.40" stroke="#1a1a1a" stroke-width="0.9" />
<line x1="153.50" y1="597.20" x2="153.50" y2="600.40" stroke="#1a1a1a" stroke-width="0.9" />
<line x1="160.20" y1="605.50" x2="160.20" y2="608.70" stroke="#1a1a1a" stroke-width="0.9" />
<line x1="162.10" y1="605.50" x2="162.10" y2="608.70" stroke="#1a1a1a" stroke-width="0.9" />
<line x1="165.00" y1="605.50" x2="165.00" y2="608.70" stroke="#1a1a1a" stroke-width="0.9" />
<line x1="167.90" y1="605.50" x2="167.90" y2="608.70" stroke="#1a1a1a" stroke-width="0.9" />
<line x1="170.80" y1="605.50" x2="170.80" y2="608.70" stroke="#1a1a1a" stroke-width="0.9" />
<line x1="190.00" y1="605.50" x2="190.00" y2="608.70" stroke="#1a1a1a" stroke-width="0.9" />
<line x1="198.70" y1="605.50" x2="198.70" y2="608.70" stroke="#1a1a1a" stroke-width="0.9" />
<line x1="206.30" y1="605.50" x2="206.30" y2="608.70" stroke="#1a1a1a" stroke-width="0.9" />
<polyline points="53.40,568.50 53.40,580.00 60.80,580.00 60.80,591.50 66.20,591.50 66.20,600.90 69.10,602.60 69.10,626.00 73.00,626.00 73.00,649.30 85.40,649.30 85.40,672.30 96.30,672.30 96.30,684.30 121.00,684.30 121.00,719.40" fill="none" stroke="#1a1a1a" stroke-width="1.2" stroke-linejoin="round" stroke-dasharray="2,1.6"/>
<line x1="111.90" y1="681.30" x2="111.90" y2="684.30" stroke="#1a1a1a" stroke-width="0.9" />
<line x1="117.90" y1="681.30" x2="117.90" y2="684.30" stroke="#1a1a1a" stroke-width="0.9" />
<line x1="288.50" y1="562.80" x2="288.50" y2="728.50" stroke="#8a8a8a" stroke-width="1" />
<line x1="288.00" y1="728.00" x2="490.50" y2="728.00" stroke="#8a8a8a" stroke-width="1" />
<line x1="286.00" y1="570.00" x2="288.50" y2="570.00" stroke="#8a8a8a" stroke-width="1" />
<line x1="286.00" y1="599.90" x2="288.50" y2="599.90" stroke="#8a8a8a" stroke-width="1" />
<line x1="286.00" y1="629.80" x2="288.50" y2="629.80" stroke="#8a8a8a" stroke-width="1" />
<line x1="286.00" y1="659.50" x2="288.50" y2="659.50" stroke="#8a8a8a" stroke-width="1" />
<line x1="286.00" y1="689.60" x2="288.50" y2="689.60" stroke="#8a8a8a" stroke-width="1" />
<line x1="286.00" y1="719.50" x2="288.50" y2="719.50" stroke="#8a8a8a" stroke-width="1" />
<line x1="298.75" y1="728.00" x2="298.75" y2="730.50" stroke="#8a8a8a" stroke-width="1" />
<line x1="328.95" y1="728.00" x2="328.95" y2="730.50" stroke="#8a8a8a" stroke-width="1" />
<line x1="359.15" y1="728.00" x2="359.15" y2="730.50" stroke="#8a8a8a" stroke-width="1" />
<line x1="389.35" y1="728.00" x2="389.35" y2="730.50" stroke="#8a8a8a" stroke-width="1" />
<line x1="419.55" y1="728.00" x2="419.55" y2="730.50" stroke="#8a8a8a" stroke-width="1" />
<line x1="449.75" y1="728.00" x2="449.75" y2="730.50" stroke="#8a8a8a" stroke-width="1" />
<line x1="479.95" y1="728.00" x2="479.95" y2="730.50" stroke="#8a8a8a" stroke-width="1" />
<polyline points="293.20,568.70 298.70,568.70 298.70,571.20 305.30,571.20 305.30,577.30 307.90,577.30 307.90,578.20 323.50,578.20 323.50,580.00 331.90,580.00 331.90,582.00 334.00,582.00 334.00,584.70 336.20,584.70 336.20,587.90 346.70,587.90 346.70,589.50 348.20,589.50 348.20,592.60 350.40,592.60 350.40,593.70 353.00,593.70 353.00,596.30 356.20,596.30 356.20,599.70 357.50,599.70 357.50,603.20 374.50,603.20 374.50,608.60 396.20,608.60 396.20,616.50 446.20,616.50" fill="none" stroke="#1a1a1a" stroke-width="1.2" stroke-linejoin="round" />
<line x1="314.80" y1="575.00" x2="314.80" y2="578.20" stroke="#1a1a1a" stroke-width="0.9" />
<line x1="321.70" y1="575.00" x2="321.70" y2="578.20" stroke="#1a1a1a" stroke-width="0.9" />
<line x1="331.50" y1="576.80" x2="331.50" y2="580.00" stroke="#1a1a1a" stroke-width="0.9" />
<line x1="340.90" y1="584.70" x2="340.90" y2="587.90" stroke="#1a1a1a" stroke-width="0.9" />
<line x1="344.00" y1="584.70" x2="344.00" y2="587.90" stroke="#1a1a1a" stroke-width="0.9" />
<line x1="345.30" y1="584.70" x2="345.30" y2="587.90" stroke="#1a1a1a" stroke-width="0.9" />
<line x1="355.60" y1="593.10" x2="355.60" y2="596.30" stroke="#1a1a1a" stroke-width="0.9" />
<line x1="360.60" y1="600.00" x2="360.60" y2="603.20" stroke="#1a1a1a" stroke-width="0.9" />
<line x1="362.50" y1="600.00" x2="362.50" y2="603.20" stroke="#1a1a1a" stroke-width="0.9" />
<line x1="364.40" y1="600.00" x2="364.40" y2="603.20" stroke="#1a1a1a" stroke-width="0.9" />
<line x1="366.30" y1="600.00" x2="366.30" y2="603.20" stroke="#1a1a1a" stroke-width="0.9" />
<line x1="373.10" y1="600.00" x2="373.10" y2="603.20" stroke="#1a1a1a" stroke-width="0.9" />
<line x1="376.90" y1="605.40" x2="376.90" y2="608.60" stroke="#1a1a1a" stroke-width="0.9" />
<line x1="379.80" y1="605.40" x2="379.80" y2="608.60" stroke="#1a1a1a" stroke-width="0.9" />
<line x1="383.70" y1="605.40" x2="383.70" y2="608.60" stroke="#1a1a1a" stroke-width="0.9" />
<line x1="387.50" y1="605.40" x2="387.50" y2="608.60" stroke="#1a1a1a" stroke-width="0.9" />
<line x1="390.40" y1="605.40" x2="390.40" y2="608.60" stroke="#1a1a1a" stroke-width="0.9" />
<line x1="393.30" y1="605.40" x2="393.30" y2="608.60" stroke="#1a1a1a" stroke-width="0.9" />
<line x1="399.00" y1="613.30" x2="399.00" y2="616.50" stroke="#1a1a1a" stroke-width="0.9" />
<line x1="401.00" y1="613.30" x2="401.00" y2="616.50" stroke="#1a1a1a" stroke-width="0.9" />
<line x1="403.00" y1="613.30" x2="403.00" y2="616.50" stroke="#1a1a1a" stroke-width="0.9" />
<line x1="405.00" y1="613.30" x2="405.00" y2="616.50" stroke="#1a1a1a" stroke-width="0.9" />
<line x1="407.00" y1="613.30" x2="407.00" y2="616.50" stroke="#1a1a1a" stroke-width="0.9" />
<line x1="409.40" y1="613.30" x2="409.40" y2="616.50" stroke="#1a1a1a" stroke-width="0.9" />
<line x1="413.50" y1="613.30" x2="413.50" y2="616.50" stroke="#1a1a1a" stroke-width="0.9" />
<line x1="428.80" y1="613.30" x2="428.80" y2="616.50" stroke="#1a1a1a" stroke-width="0.9" />
<line x1="437.50" y1="613.30" x2="437.50" y2="616.50" stroke="#1a1a1a" stroke-width="0.9" />
<line x1="445.20" y1="613.30" x2="445.20" y2="616.50" stroke="#1a1a1a" stroke-width="0.9" />
<polyline points="293.50,568.70 293.50,579.90 299.80,579.90 299.80,591.10 303.60,591.10 303.60,600.00 305.30,602.60 305.30,614.70 309.10,614.70 309.10,637.20 313.10,637.20 313.10,660.60 314.80,660.60 314.80,672.70 325.20,672.70 325.20,684.40 360.70,684.40 360.70,718.50" fill="none" stroke="#1a1a1a" stroke-width="1.2" stroke-linejoin="round" stroke-dasharray="2,1.6"/>
<line x1="350.00" y1="681.40" x2="350.00" y2="684.40" stroke="#1a1a1a" stroke-width="0.9" />
<line x1="357.00" y1="681.40" x2="357.00" y2="684.40" stroke="#1a1a1a" stroke-width="0.9" />
<text transform="translate(10.2,428.4) rotate(-90)" x="0" y="0" font-family='"Liberation Serif", serif' font-size="14.8" font-weight="bold" fill="#111" stroke="#111" stroke-width="0.35" textLength="112.1" lengthAdjust="spacingAndGlyphs">Survival Time (%)</text>
<text x="83.96" y="12.10" font-family='"Liberation Serif", serif' font-size="16.3" font-weight="bold" fill="#111" stroke="#111" stroke-width="0.45" textLength="117.01" lengthAdjust="spacingAndGlyphs">Overall Survival</text>
<text x="316.55" y="11.35" font-family='"Liberation Serif", serif' font-size="16.3" font-weight="bold" fill="#111" stroke="#111" stroke-width="0.45" textLength="182.86" lengthAdjust="spacingAndGlyphs">Progression Free Survival</text>
<text x="16.84" y="29.80" font-family='"Liberation Sans", sans-serif' font-size="9.9" font-weight="bold" fill="#111" stroke="#111" stroke-width="0.45">100</text>
<text x="22.35" y="57.90" font-family='"Liberation Sans", sans-serif' font-size="9.9" font-weight="bold" fill="#111" stroke="#111" stroke-width="0.45">80</text>
<text x="22.35" y="86.40" font-family='"Liberation Sans", sans-serif' font-size="9.9" font-weight="bold" fill="#111" stroke="#111" stroke-width="0.45">60</text>
<text x="22.35" y="114.80" font-family='"Liberation Sans", sans-serif' font-size="9.9" font-weight="bold" fill="#111" stroke="#111" stroke-width="0.45">40</text>
<text x="22.35" y="143.00" font-family='"Liberation Sans", sans-serif' font-size="9.9" font-weight="bold" fill="#111" stroke="#111" stroke-width="0.45">20</text>
<text x="25.55" y="171.60" font-family='"Liberation Sans", sans-serif' font-size="9.9" font-weight="bold" fill="#111" stroke="#111" stroke-width="0.45">0</text>
<text x="105.99" y="44.40" font-family='"Liberation Serif", serif' font-size="14.5" font-weight="bold" fill="#111" stroke="#111" stroke-width="0.45" textLength="47.45" lengthAdjust="spacingAndGlyphs">P=0.026</text>
<text x="162.29" y="70.20" font-family='"Liberation Serif", serif' font-size="14.7" font-weight="bold" fill="#111" stroke="#111" stroke-width="0.45" textLength="83.83" lengthAdjust="spacingAndGlyphs">EBV- (n=346)</text>
<text x="160.29" y="143.60" font-family='"Liberation Serif", serif' font-size="15" font-weight="bold" fill="#111" stroke="#111" stroke-width="0.45" textLength="80.32" lengthAdjust="spacingAndGlyphs">EBV+ (n=34)</text>
<text x="65.08" y="150.50" font-family='"Liberation Sans", sans-serif' font-size="13.9" font-weight="bold" fill="#111" stroke="#111" stroke-width="0.7" textLength="9.66" lengthAdjust="spacingAndGlyphs">A</text>
<text x="340.00" y="44.20" font-family='"Liberation Serif", serif' font-size="14.5" font-weight="bold" fill="#111" stroke="#111" stroke-width="0.45" textLength="46.81" lengthAdjust="spacingAndGlyphs">P=0.018</text>
<text x="396.39" y="83.70" font-family='"Liberation Serif", serif' font-size="15" font-weight="bold" fill="#111" stroke="#111" stroke-width="0.45" textLength="83.63" lengthAdjust="spacingAndGlyphs">EBV- (n=346)</text>
<text x="394.29" y="164.60" font-family='"Liberation Serif", serif' font-size="15" font-weight="bold" fill="#111" stroke="#111" stroke-width="0.45" textLength="79.61" lengthAdjust="spacingAndGlyphs">EBV+ (n=34)</text>
<text x="303.49" y="150.70" font-family='"Liberation Sans", sans-serif' font-size="13.9" font-weight="bold" fill="#111" stroke="#111" stroke-width="0.7" textLength="9.51" lengthAdjust="spacingAndGlyphs">B</text>
<text x="16.64" y="207.00" font-family='"Liberation Sans", sans-serif' font-size="9.9" font-weight="bold" fill="#111" stroke="#111" stroke-width="0.45">100</text>
<text x="22.15" y="233.80" font-family='"Liberation Sans", sans-serif' font-size="9.9" font-weight="bold" fill="#111" stroke="#111" stroke-width="0.45">80</text>
<text x="22.15" y="256.60" font-family='"Liberation Sans", sans-serif' font-size="9.9" font-weight="bold" fill="#111" stroke="#111" stroke-width="0.45">60</text>
<text x="22.15" y="285.10" font-family='"Liberation Sans", sans-serif' font-size="9.9" font-weight="bold" fill="#111" stroke="#111" stroke-width="0.45">40</text>
<text x="22.15" y="311.90" font-family='"Liberation Sans", sans-serif' font-size="9.9" font-weight="bold" fill="#111" stroke="#111" stroke-width="0.45">20</text>
<text x="25.35" y="341.60" font-family='"Liberation Sans", sans-serif' font-size="9.9" font-weight="bold" fill="#111" stroke="#111" stroke-width="0.45">0</text>
<text x="135.79" y="221.80" font-family='"Liberation Serif", serif' font-size="14.3" font-weight="bold" fill="#111" stroke="#111" stroke-width="0.45" textLength="121.02" lengthAdjust="spacingAndGlyphs">EBV-, GCB (n=162)</text>
<text x="134.19" y="264.50" font-family='"Liberation Serif", serif' font-size="14.5" font-weight="bold" fill="#111" stroke="#111" stroke-width="0.45" textLength="113.43" lengthAdjust="spacingAndGlyphs">EBV-, ABC (n=78)</text>
<text x="133.54" y="304.30" font-family='"Liberation Serif", serif' font-size="14.5" font-weight="bold" fill="#111" stroke="#111" stroke-width="0.45" textLength="133.38" lengthAdjust="spacingAndGlyphs">EBV+ DLBCL (n=38)</text>
<text x="91.79" y="332.40" font-family='"Liberation Serif", serif' font-size="14.8" font-weight="bold" fill="#111" stroke="#111" stroke-width="0.45" textLength="54.09" lengthAdjust="spacingAndGlyphs">P &lt; 0.001</text>
<text x="64.83" y="325.00" font-family='"Liberation Sans", sans-serif' font-size="13.9" font-weight="bold" fill="#111" stroke="#111" stroke-width="0.7" textLength="9.37" lengthAdjust="spacingAndGlyphs">C</text>
<text x="390.48" y="235.60" font-family='"Liberation Serif", serif' font-size="14.5" font-weight="bold" fill="#111" stroke="#111" stroke-width="0.45" textLength="122.33" lengthAdjust="spacingAndGlyphs">EBV-, GCB (n=162)</text>
<text x="388.19" y="286.00" font-family='"Liberation Serif", serif' font-size="14.3" font-weight="bold" fill="#111" stroke="#111" stroke-width="0.45" textLength="112.92" lengthAdjust="spacingAndGlyphs">EBV-, ABC (n=78)</text>
<text x="388.09" y="318.00" font-family='"Liberation Serif", serif' font-size="14.3" font-weight="bold" fill="#111" stroke="#111" stroke-width="0.45" textLength="132.02" lengthAdjust="spacingAndGlyphs">EBV+ DLBCL (n=38)</text>
<text x="325.99" y="332.40" font-family='"Liberation Serif", serif' font-size="14.8" font-weight="bold" fill="#111" stroke="#111" stroke-width="0.45" textLength="54.20" lengthAdjust="spacingAndGlyphs">P &lt; 0.001</text>
<text x="303.48" y="324.80" font-family='"Liberation Sans", sans-serif' font-size="13.9" font-weight="bold" fill="#111" stroke="#111" stroke-width="0.7" textLength="9.67" lengthAdjust="spacingAndGlyphs">D</text>
<text x="16.74" y="378.60" font-family='"Liberation Sans", sans-serif' font-size="9.9" font-weight="bold" fill="#111" stroke="#111" stroke-width="0.45">100</text>
<text x="22.25" y="406.90" font-family='"Liberation Sans", sans-serif' font-size="9.9" font-weight="bold" fill="#111" stroke="#111" stroke-width="0.45">80</text>
<text x="22.25" y="442.30" font-family='"Liberation Sans", sans-serif' font-size="9.9" font-weight="bold" fill="#111" stroke="#111" stroke-width="0.45">60</text>
<text x="22.25" y="469.20" font-family='"Liberation Sans", sans-serif' font-size="9.9" font-weight="bold" fill="#111" stroke="#111" stroke-width="0.45">40</text>
<text x="22.25" y="499.20" font-family='"Liberation Sans", sans-serif' font-size="9.9" font-weight="bold" fill="#111" stroke="#111" stroke-width="0.45">20</text>
<text x="25.45" y="533.20" font-family='"Liberation Sans", sans-serif' font-size="9.9" font-weight="bold" fill="#111" stroke="#111" stroke-width="0.45">0</text>
<text x="148.29" y="396.40" font-family='"Liberation Serif", serif' font-size="13.2" font-weight="bold" fill="#111" stroke="#111" stroke-width="0.45" textLength="79.82" lengthAdjust="spacingAndGlyphs">EBV+ (n=13)</text>
<text x="146.69" y="467.00" font-family='"Liberation Serif", serif' font-size="13.5" font-weight="bold" fill="#111" stroke="#111" stroke-width="0.45" textLength="83.33" lengthAdjust="spacingAndGlyphs">EBV- (n=171)</text>
<text x="105.79" y="516.80" font-family='"Liberation Serif", serif' font-size="14" font-weight="bold" fill="#111" stroke="#111" stroke-width="0.45" textLength="47.21" lengthAdjust="spacingAndGlyphs">P = 0.14</text>
<text x="64.65" y="517.10" font-family='"Liberation Sans", sans-serif' font-size="13.9" font-weight="bold" fill="#111" stroke="#111" stroke-width="0.7" textLength="9.21" lengthAdjust="spacingAndGlyphs">E</text>
<text x="396.39" y="417.00" font-family='"Liberation Serif", serif' font-size="13.3" font-weight="bold" fill="#111" stroke="#111" stroke-width="0.45" textLength="79.61" lengthAdjust="spacingAndGlyphs">EBV+ (n=13)</text>
<text x="394.58" y="491.00" font-family='"Liberation Serif", serif' font-size="13.3" font-weight="bold" fill="#111" stroke="#111" stroke-width="0.45" textLength="84.34" lengthAdjust="spacingAndGlyphs">EBV- (n=171)</text>
<text x="337.79" y="519.20" font-family='"Liberation Serif", serif' font-size="14" font-weight="bold" fill="#111" stroke="#111" stroke-width="0.45" textLength="47.21" lengthAdjust="spacingAndGlyphs">P = 0.14</text>
<text x="303.22" y="517.50" font-family='"Liberation Sans", sans-serif' font-size="13.9" font-weight="bold" fill="#111" stroke="#111" stroke-width="0.7" textLength="8.74" lengthAdjust="spacingAndGlyphs">F</text>
<text x="16.74" y="571.20" font-family='"Liberation Sans", sans-serif' font-size="9.9" font-weight="bold" fill="#111" stroke="#111" stroke-width="0.45">100</text>
<text x="22.25" y="599.60" font-family='"Liberation Sans", sans-serif' font-size="9.9" font-weight="bold" fill="#111" stroke="#111" stroke-width="0.45">80</text>
<text x="22.25" y="635.10" font-family='"Liberation Sans", sans-serif' font-size="9.9" font-weight="bold" fill="#111" stroke="#111" stroke-width="0.45">60</text>
<text x="22.25" y="662.30" font-family='"Liberation Sans", sans-serif' font-size="9.9" font-weight="bold" fill="#111" stroke="#111" stroke-width="0.45">40</text>
<text x="22.25" y="692.00" font-family='"Liberation Sans", sans-serif' font-size="9.9" font-weight="bold" fill="#111" stroke="#111" stroke-width="0.45">20</text>
<text x="25.45" y="725.90" font-family='"Liberation Sans", sans-serif' font-size="9.9" font-weight="bold" fill="#111" stroke="#111" stroke-width="0.45">0</text>
<text x="38.21" y="747.30" font-family='"Liberation Sans", sans-serif' font-size="9.7" font-weight="bold" fill="#111" stroke="#111" stroke-width="0.45">0</text>
<text x="59.39" y="747.30" font-family='"Liberation Sans", sans-serif' font-size="9.7" font-weight="bold" fill="#111" stroke="#111" stroke-width="0.45">20</text>
<text x="88.81" y="747.30" font-family='"Liberation Sans", sans-serif' font-size="9.7" font-weight="bold" fill="#111" stroke="#111" stroke-width="0.45">40</text>
<text x="116.86" y="747.30" font-family='"Liberation Sans", sans-serif' font-size="9.7" font-weight="bold" fill="#111" stroke="#111" stroke-width="0.45">60</text>
<text x="144.39" y="747.30" font-family='"Liberation Sans", sans-serif' font-size="9.7" font-weight="bold" fill="#111" stroke="#111" stroke-width="0.45">80</text>
<text x="171.79" y="747.30" font-family='"Liberation Sans", sans-serif' font-size="9.7" font-weight="bold" fill="#111" stroke="#111" stroke-width="0.45">100</text>
<text x="201.79" y="747.30" font-family='"Liberation Sans", sans-serif' font-size="9.7" font-weight="bold" fill="#111" stroke="#111" stroke-width="0.45">120</text>
<text x="231.79" y="747.30" font-family='"Liberation Sans", sans-serif' font-size="9.7" font-weight="bold" fill="#111" stroke="#111" stroke-width="0.45">140</text>
<text x="167.79" y="587.60" font-family='"Liberation Serif", serif' font-size="14.0" font-weight="bold" fill="#111" stroke="#111" stroke-width="0.45" textLength="61.50" lengthAdjust="spacingAndGlyphs">P &lt; 0.0001</text>
<text x="134.39" y="637.40" font-family='"Liberation Serif", serif' font-size="14.3" font-weight="bold" fill="#111" stroke="#111" stroke-width="0.45" textLength="119.23" lengthAdjust="spacingAndGlyphs">EBV-CD30+ (n=65)</text>
<text x="134.09" y="715.00" font-family='"Liberation Serif", serif' font-size="14.3" font-weight="bold" fill="#111" stroke="#111" stroke-width="0.45" textLength="121.71" lengthAdjust="spacingAndGlyphs">EBV+CD30+ (n=14)</text>
<text x="65.03" y="715.40" font-family='"Liberation Sans", sans-serif' font-size="13.9" font-weight="bold" fill="#111" stroke="#111" stroke-width="0.7" textLength="10.18" lengthAdjust="spacingAndGlyphs">G</text>
<text x="284.21" y="747.50" font-family='"Liberation Sans", sans-serif' font-size="9.7" font-weight="bold" fill="#111" stroke="#111" stroke-width="0.45">0</text>
<text x="305.89" y="747.50" font-family='"Liberation Sans", sans-serif' font-size="9.7" font-weight="bold" fill="#111" stroke="#111" stroke-width="0.45">20</text>
<text x="334.71" y="747.50" font-family='"Liberation Sans", sans-serif' font-size="9.7" font-weight="bold" fill="#111" stroke="#111" stroke-width="0.45">40</text>
<text x="362.11" y="747.50" font-family='"Liberation Sans", sans-serif' font-size="9.7" font-weight="bold" fill="#111" stroke="#111" stroke-width="0.45">60</text>
<text x="389.64" y="747.50" font-family='"Liberation Sans", sans-serif' font-size="9.7" font-weight="bold" fill="#111" stroke="#111" stroke-width="0.45">80</text>
<text x="419.04" y="747.50" font-family='"Liberation Sans", sans-serif' font-size="9.7" font-weight="bold" fill="#111" stroke="#111" stroke-width="0.45">100</text>
<text x="448.04" y="747.50" font-family='"Liberation Sans", sans-serif' font-size="9.7" font-weight="bold" fill="#111" stroke="#111" stroke-width="0.45">120</text>
<text x="478.04" y="747.50" font-family='"Liberation Sans", sans-serif' font-size="9.7" font-weight="bold" fill="#111" stroke="#111" stroke-width="0.45">140</text>
<text x="401.59" y="587.60" font-family='"Liberation Serif", serif' font-size="14.0" font-weight="bold" fill="#111" stroke="#111" stroke-width="0.45" textLength="61.50" lengthAdjust="spacingAndGlyphs">P &lt; 0.0001</text>
<text x="374.99" y="647.90" font-family='"Liberation Serif", serif' font-size="14.5" font-weight="bold" fill="#111" stroke="#111" stroke-width="0.45" textLength="118.52" lengthAdjust="spacingAndGlyphs">EBV-CD30+ (n=65)</text>
<text x="373.19" y="712.20" font-family='"Liberation Serif", serif' font-size="14.3" font-weight="bold" fill="#111" stroke="#111" stroke-width="0.45" textLength="121.61" lengthAdjust="spacingAndGlyphs">EBV+CD30+ (n=14)</text>
<text x="303.51" y="715.40" font-family='"Liberation Sans", sans-serif' font-size="13.9" font-weight="bold" fill="#111" stroke="#111" stroke-width="0.7" textLength="9.30" lengthAdjust="spacingAndGlyphs">H</text>
<text x="180.90" y="766.10" font-family='"Liberation Serif", serif' font-size="14.5" font-weight="bold" fill="#111" stroke="#111" stroke-width="0.45" textLength="142.51" lengthAdjust="spacingAndGlyphs">Survival Time (months)</text>
</svg>
</body></html>
